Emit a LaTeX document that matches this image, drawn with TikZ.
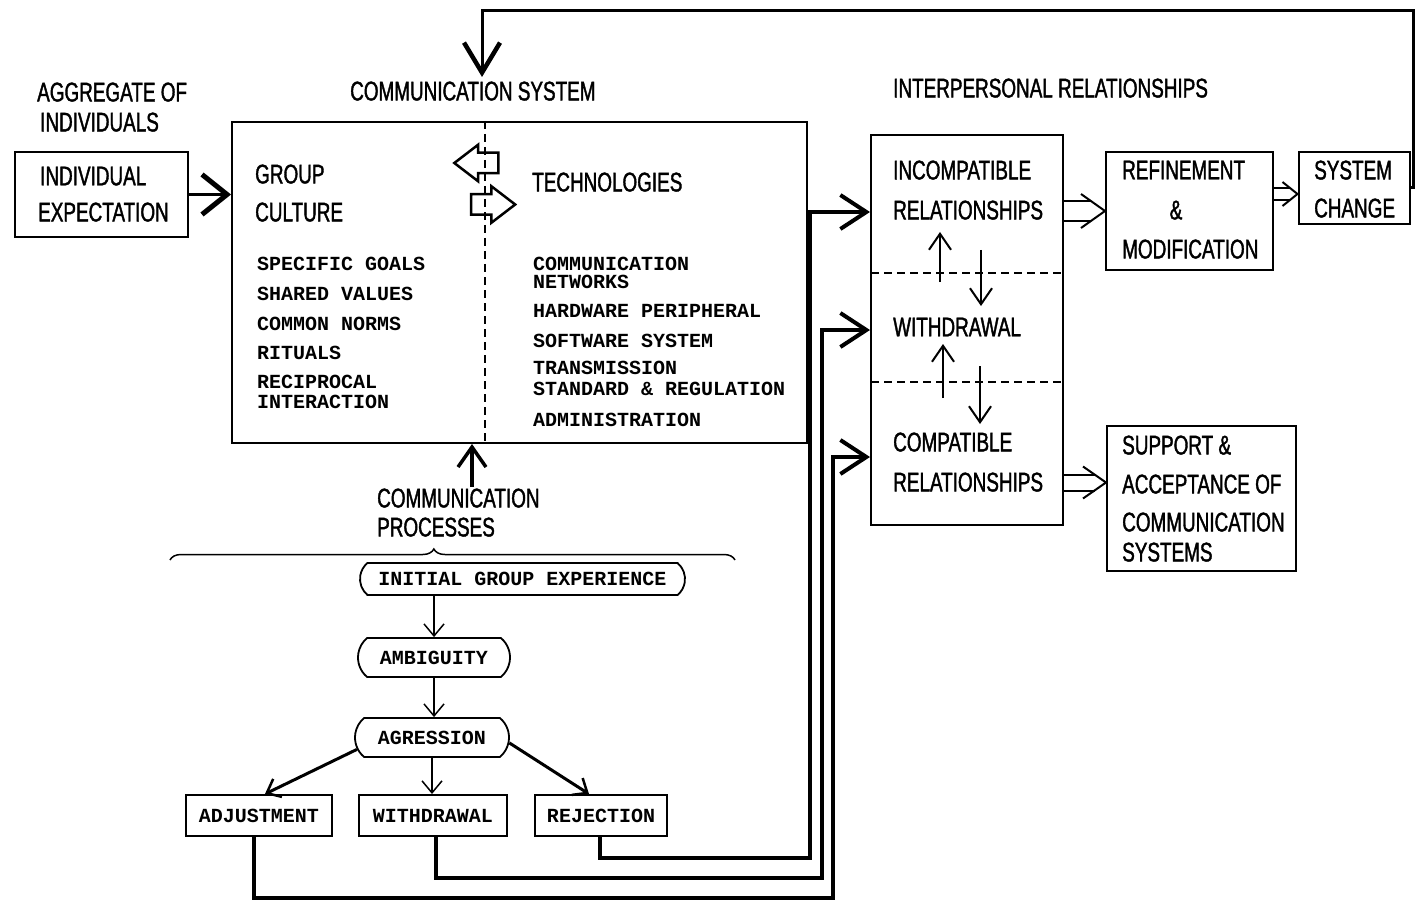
\documentclass[tikz,border=0pt]{standalone}
\usepackage{fontspec}
\setmainfont{Liberation Sans}
\newfontfamily\hdfam{Liberation Sans}[FakeStretch=0.7,FakeBold=1.4]
\newfontfamily\monofam{Liberation Mono}
\newcommand\hdf{\hdfam\fontsize{27}{30}\selectfont}
\newcommand\lsf{\monofam\bfseries\fontsize{20}{22}\selectfont}
\usetikzlibrary{arrows.meta,shapes.misc,shapes.arrows,decorations.pathreplacing,calc}
% hollow double-line arrow: #1 start, #2 tip, #3 half gap, #4 head half width, #5 head length
\newcommand\hollowarr[5]{%
  \draw[hol] ($#1+(0,#3)$) -- ($#2+({-#5*#3/#4},#3)$);
  \draw[hol] ($#1+(0,-#3)$) -- ($#2+({-#5*#3/#4},-#3)$);
  \draw[hol] ($#2+(-#5,-#4)$) -- #2 -- ($#2+(-#5,#4)$);
}
\begin{document}
\begin{tikzpicture}[x=1pt,y=-1pt,
  box/.style={draw, line width=2pt, inner sep=0pt},
  hd/.style={anchor=west, inner sep=0pt, text depth=0pt, font=\hdf},
  ls/.style={anchor=west, inner sep=0pt, text depth=0pt, font=\lsf},
  flow/.style={draw, line width=1.8pt, rounded rectangle, rounded rectangle arc length=100, inner sep=0pt, font=\lsf},
  fbox/.style={draw, line width=2pt, inner sep=0pt, font=\lsf},
  big/.style={line width=3pt, -{Straight Barb[length=25pt,width=40pt,line width=5pt]}},
  feed/.style={line width=3pt, -{Straight Barb[length=30pt,width=36pt,line width=4.5pt]}},
  conn/.style={line width=3.5pt, -{Straight Barb[length=26pt,width=34pt,line width=4pt]}},
  thin/.style={line width=1.5pt, -{Straight Barb[length=12pt,width=20pt,line width=1.5pt]}},
  diag/.style={line width=3pt, -{Straight Barb[length=12pt,width=20pt,line width=2.5pt]}},
  updn/.style={line width=2pt, -{Straight Barb[length=16pt,width=22pt,line width=2pt]}},
  cparr/.style={line width=4pt, -{Straight Barb[length=20pt,width=28pt,line width=3.5pt]}},
  div/.style={dash pattern=on 8pt off 5pt, line width=1.5pt},
  hol/.style={line width=2pt},
  blk/.style={single arrow, draw, line width=2.5pt, inner sep=9pt, minimum height=44pt, single arrow head extend=8pt, single arrow tip angle=75}
]
\useasboundingbox (0,0) rectangle (1415,901);

% ---------- boxes ----------
\node[box, minimum width=173pt, minimum height=85pt] (ie) at (101.5,194.5) {};
\node[box, minimum width=575pt, minimum height=321pt] (cs) at (519.5,282.5) {};
\node[box, minimum width=192pt, minimum height=390pt] (ir) at (967,330) {};
\node[box, minimum width=167pt, minimum height=118pt] (rm) at (1189.5,211) {};
\node[box, minimum width=111pt, minimum height=72pt] (sc) at (1354,188) {};
\node[box, minimum width=189pt, minimum height=145pt] (sa) at (1201.5,498.5) {};

% ---------- headings ----------
\node[hd] (t1) at (37,92) {AGGREGATE OF};
\node[hd] (t2) at (40,122) {INDIVIDUALS};
\node[hd] (t3) at (40,176) {INDIVIDUAL};
\node[hd] (t4) at (38,212) {EXPECTATION};
\node[hd] (t5) at (350,91) {COMMUNICATION SYSTEM};
\node[hd] (t6) at (255,174) {GROUP};
\node[hd] (t7) at (255,212) {CULTURE};
\node[hd] (t8) at (532,182) {TECHNOLOGIES};
\node[hd] (t9) at (893,88) {INTERPERSONAL RELATIONSHIPS};
\node[hd] (t10) at (893,170) {INCOMPATIBLE};
\node[hd] (t11) at (893,210) {RELATIONSHIPS};
\node[hd] (t12) at (893,327) {WITHDRAWAL};
\node[hd] (t13) at (893,442) {COMPATIBLE};
\node[hd] (t14) at (893,482) {RELATIONSHIPS};
\node[hd] (t15) at (1122,170) {REFINEMENT};
\node[hd, anchor=center] (t16) at (1176,210) {\&};
\node[hd] (t17) at (1122,249) {MODIFICATION};
\node[hd] (t18) at (1314,170) {SYSTEM};
\node[hd] (t19) at (1314,208) {CHANGE};
\node[hd] (t20) at (1122,445) {SUPPORT \&};
\node[hd] (t21) at (1122,484) {ACCEPTANCE OF};
\node[hd] (t22) at (1122,522) {COMMUNICATION};
\node[hd] (t23) at (1122,552) {SYSTEMS};
\node[hd] (t24) at (377,498) {COMMUNICATION};
\node[hd] (t25) at (377,527) {PROCESSES};

% ---------- lists ----------
\node[ls] (l1) at (257,264) {SPECIFIC GOALS};
\node[ls] (l2) at (257,294) {SHARED VALUES};
\node[ls] (l3) at (257,324) {COMMON NORMS};
\node[ls] (l4) at (257,353) {RITUALS};
\node[ls] (l5) at (257,382) {RECIPROCAL};
\node[ls] (l6) at (257,402) {INTERACTION};
\node[ls] (r1t) at (533,264) {COMMUNICATION};
\node[ls] (r2t) at (533,282) {NETWORKS};
\node[ls] (r3t) at (533,311) {HARDWARE PERIPHERAL};
\node[ls] (r4t) at (533,341) {SOFTWARE SYSTEM};
\node[ls] (r5t) at (533,368) {TRANSMISSION};
\node[ls] (r6t) at (533,389) {STANDARD \& REGULATION};
\node[ls] (r7t) at (533,420) {ADMINISTRATION};

% divider and block arrows in communication system
\draw[div] ([xshift=-34.5pt]cs.north) -- ([xshift=-34.5pt]cs.south);
\node[blk, shape border rotate=180] (la) at (483,163) {};
\node[blk] (ra) at (486.5,204.5) {};

% ---------- flow chart ----------
\node[flow, minimum width=325pt, minimum height=32pt] (ige) at (522.5,579) {INITIAL GROUP EXPERIENCE};
\node[flow, minimum width=152pt, minimum height=39pt] (amb) at (434,657.5) {AMBIGUITY};
\node[flow, minimum width=154pt, minimum height=39pt] (agr) at (432,737.5) {AGRESSION};
\node[fbox, minimum width=146pt, minimum height=41pt] (adj) at (259,815.5) {ADJUSTMENT};
\node[fbox, minimum width=148pt, minimum height=41pt] (wd) at (433,815.5) {WITHDRAWAL};
\node[fbox, minimum width=132pt, minimum height=41pt] (rej) at (601,815.5) {REJECTION};

\draw[thin] (ige.south -| amb.north) -- (amb.north);
\draw[thin] (amb.south) -- (amb.south |- agr.north);
\draw[diag] (agr.189) -- ([xshift=6pt]adj.north);
\draw[thin] (agr.south) -- (agr.south |- wd.north);
\draw[diag] (agr.356) -- ([xshift=-12pt]rej.north);

% brace
\coordinate (b1) at (170,560);
\coordinate (b2) at (735,560);
\draw[line width=1.5pt, decorate, decoration={brace, amplitude=11pt, aspect=0.467}] (b1) -- (b2);

% communication processes arrow
\coordinate (cpb) at (472,487);
\draw[cparr] (cpb) -- (cpb |- cs.south);

% individual -> communication system
\draw[big] (ie.east) -- (ie.east -| cs.west);

% feedback loop
\coordinate (fbR) at (1413,11);
\coordinate (fbL) at (482,11);
\coordinate (fbT) at (482,77);
\draw[feed] (sc.east) -- (sc.east -| fbR) -- (fbR) -- (fbL) -- (fbT);

% outcomes -> interpersonal relationships
\coordinate (rc) at (810,858);
\coordinate (wc) at (822,878);
\coordinate (ac) at (833,898);
\draw[conn] ([xshift=-1pt]rej.south) |- (rc) |- ([yshift=118pt]ir.west);
\draw[conn] ([xshift=3pt]wd.south) |- (wc) |- (ir.west);
\draw[conn] ([xshift=-5pt]adj.south) |- (ac) |- ([yshift=-127pt]ir.west);

% internal dashed lines and arrows
\coordinate (dl1) at (871,273);
\coordinate (dl2) at (871,382);
\draw[div] (dl1) -- (dl1 -| ir.east);
\draw[div] (dl2) -- (dl2 -| ir.east);
\coordinate (u1a) at (940,282); \coordinate (u1b) at (940,232);
\coordinate (d1a) at (981,250); \coordinate (d1b) at (981,306);
\coordinate (u2a) at (943,398); \coordinate (u2b) at (943,344);
\coordinate (d2a) at (980,366); \coordinate (d2b) at (980,424);
\draw[updn] (u1a) -- (u1b);
\draw[updn] (d1a) -- (d1b);
\draw[updn] (u2a) -- (u2b);
\draw[updn] (d2a) -- (d2b);

% hollow arrows
\coordinate (irOut1) at (rm.west -| ir.east);
\hollowarr{(irOut1)}{(rm.west)}{10}{17}{24}
\coordinate (scIn) at ([yshift=-6pt]sc.west);
\coordinate (rmOut) at (scIn -| rm.east);
\hollowarr{(rmOut)}{(scIn)}{6}{12}{15}
\coordinate (saIn) at ([yshift=16pt]sa.west);
\coordinate (saOut) at (saIn -| ir.east);
\hollowarr{(saOut)}{(saIn)}{8}{16}{23}
\end{tikzpicture}
\end{document}
